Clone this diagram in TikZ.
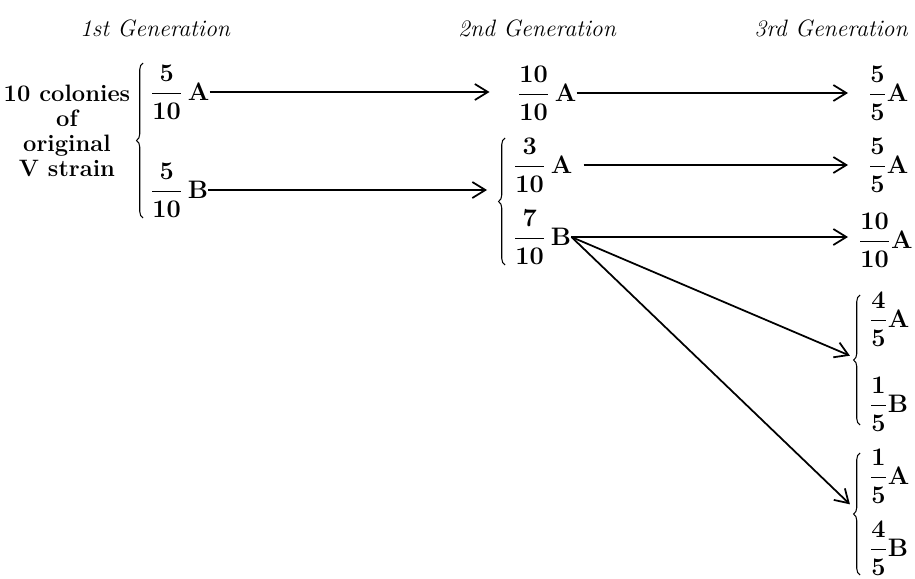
\documentclass[tikz,border=0pt]{standalone}
\usepackage{amsmath}
\usetikzlibrary{arrows.meta,decorations.pathreplacing}
\begin{document}
\begin{tikzpicture}[x=0.02cm,y=-0.02cm,
  body/.style={inner sep=0pt, font=\fontsize{13.5}{14.2}\selectfont\bfseries\boldmath},
  fr/.style={inner sep=0pt, anchor=west, font=\fontsize{14}{16}\selectfont\bfseries\boldmath},
  title/.style={inner sep=0pt, font=\fontsize{13.5}{16}\selectfont\itshape},
  arr/.style={line width=1pt, -{Straight Barb[length=2.6mm,width=3.2mm,line width=1pt]}},
  br/.style={line width=0.6pt, decorate, decoration={brace, amplitude=0.13cm}}]
\useasboundingbox (0,0) rectangle (915,578);
% titles
\node[title] (t1) at (155,28) {1st Generation};
\node[title] (t2) at (537,28) {2nd Generation};
\node[title] (t3) at (831,28) {3rd Generation};
% left label
\node[body, align=center] (lab) at (67,131) {10 colonies\\of\\original\\V strain};
% braces
\draw[br] (143,218) -- (143,63);
\draw[br] (505,265) -- (505,138);
\draw[br] (860,425) -- (860,295);
\draw[br] (860,575) -- (860,453);
\coordinate (br2) at (505,202);
\coordinate (br3a) at (860,360);
\coordinate (br3b) at (860,514);
% 1st generation
\node[fr] (a1) at (150,92) {$\dfrac{5}{10}\,\mathbf{A}$};
\node[fr] (a2) at (150,190) {$\dfrac{5}{10}\,\mathbf{B}$};
% 2nd generation
\node[fr] (b1) at (517,93) {$\dfrac{10}{10}\,\mathbf{A}$};
\node[fr] (b2) at (513,165) {$\dfrac{3}{10}\,\mathbf{A}$};
\node[fr] (b3) at (513,237) {$\dfrac{7}{10}\,\mathbf{B}$};
% 3rd generation
\node[fr] (c1) at (868,93) {$\dfrac{5}{5}\mathbf{A}$};
\node[fr] (c2) at (868,165) {$\dfrac{5}{5}\mathbf{A}$};
\node[fr] (c3) at (858,240) {$\dfrac{10}{10}\mathbf{A}$};
\node[fr] (d1) at (869,319) {$\dfrac{4}{5}\mathbf{A}$};
\node[fr] (d2) at (869,404) {$\dfrac{1}{5}\mathbf{B}$};
\node[fr] (d3) at (869,476) {$\dfrac{1}{5}\mathbf{A}$};
\node[fr] (d4) at (869,548) {$\dfrac{4}{5}\mathbf{B}$};
% arrows
\draw[arr, shorten >=0.55cm] (a1.east) -- (a1.east -| b1.west);
\draw[arr, shorten >=0.36cm] (a2.east) -- (a2.east -| br2);
\draw[arr, shorten >=0.4cm] (b1.east) -- (b1.east -| c1.west);
\draw[arr, shorten <=0.22cm, shorten >=0.4cm] (b2.east) -- (b2.east -| c2.west);
\draw[arr, shorten >=0.2cm] (b3.east) -- (b3.east -| c3.west);
\draw[arr, shorten >=0.22cm] (b3.east) -- (br3a);
\draw[arr, shorten >=0.28cm] (b3.east) -- (br3b);
\end{tikzpicture}
\end{document}
